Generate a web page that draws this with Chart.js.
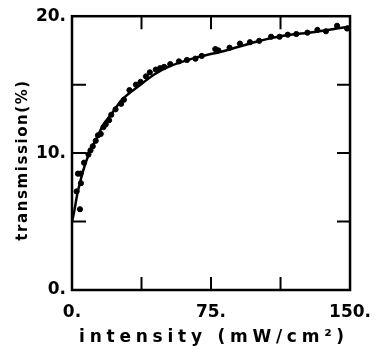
<!DOCTYPE html>
<html lang="en">
<head>
<meta charset="utf-8">
<title>transmission vs intensity</title>
<script src="https://cdnjs.cloudflare.com/ajax/libs/Chart.js/4.4.1/chart.umd.min.js"></script>
<style>
	html, body { margin: 0; padding: 0; background: #fff; }
	#wrap { width: 383px; height: 349px; position: relative; }
</style>
</head>
<body>
<div id="wrap"><canvas id="chart"></canvas></div>
<script>
// measured points (intensity mW/cm2, transmission %)
const pointX = [2.5, 3.2, 4.3, 4.6, 4.8, 6.5, 8.9, 10, 11.2, 12.8, 14, 15.5, 17, 18.2, 20, 21.2, 23.5, 26.5, 28, 31, 34.5, 37, 39.9, 42, 45.2, 47.5, 49.7, 53, 57.7, 62, 66.6, 70, 77.3, 79, 85, 90.6, 96, 101, 107.4, 112, 116.4, 121, 127, 132.4, 137, 143, 148.4]
const pointY = [7.2, 8.5, 5.9, 8.5, 7.8, 9.3, 9.9, 10.2, 10.5, 10.9, 11.3, 11.4, 11.9, 12.1, 12.4, 12.8, 13.2, 13.6, 13.9, 14.6, 15.0, 15.2, 15.6, 15.9, 16.1, 16.2, 16.3, 16.5, 16.7, 16.8, 16.9, 17.1, 17.6, 17.5, 17.7, 18.0, 18.1, 18.2, 18.5, 18.5, 18.65, 18.7, 18.8, 19.0, 18.9, 19.3, 19.1]

// fitted curve
const curveX = [0, 1, 3, 6, 9, 13, 17, 21, 27, 36, 45, 52, 65, 83, 100, 113, 131, 150]
const curveY = [5.0, 5.6, 7.1, 8.7, 9.9, 11.0, 12.1, 12.8, 13.9, 14.9, 15.8, 16.3, 16.9, 17.5, 18.15, 18.55, 18.85, 19.25]

const xLabelled = [0, 75, 150]
const yLabelled = [0, 10, 20]
const xTitle = "intensity (mW/cm\u00B2)"
const yTitle = "transmission(%)"

const font = "'DejaVu Sans', sans-serif"

const framePlugin = {
	id: "frame",
	afterDatasetsDraw(chart) {
		const { ctx, chartArea: a, scales: { x, y } } = chart
		ctx.save()
		ctx.strokeStyle = "#000"
		ctx.lineWidth = 2.5
		ctx.strokeRect(a.left, a.top, a.right - a.left, a.bottom - a.top)

		// inward tick marks on all four sides
		ctx.lineWidth = 2
		ctx.beginPath()
		x.ticks.forEach(t => {
			if (t.value <= x.min || t.value >= x.max) return
			const px = x.getPixelForValue(t.value)
			ctx.moveTo(px, a.bottom); ctx.lineTo(px, a.bottom - 13)
			ctx.moveTo(px, a.top); ctx.lineTo(px, a.top + 13)
		})
		y.ticks.forEach(t => {
			if (t.value <= y.min || t.value >= y.max) return
			const py = y.getPixelForValue(t.value)
			ctx.moveTo(a.left, py); ctx.lineTo(a.left + 14, py)
			ctx.moveTo(a.right, py); ctx.lineTo(a.right - 13, py)
		})
		ctx.stroke()

		// axis titles, spaced out like the original lettering
		ctx.fillStyle = "#000"
		ctx.textBaseline = "middle"
		ctx.textAlign = "center"
		ctx.font = "bold 17px " + font
		ctx.letterSpacing = "0px"
		let w = ctx.measureText(xTitle).width
		ctx.letterSpacing = ((265 - w) / (xTitle.length - 1)) + "px"
		ctx.fillText(xTitle, 214, 338)

		ctx.font = "bold 15px " + font
		ctx.letterSpacing = "0px"
		w = ctx.measureText(yTitle).width
		ctx.letterSpacing = ((160 - w) / (yTitle.length - 1)) + "px"
		ctx.translate(23, 160)
		ctx.rotate(-Math.PI / 2)
		ctx.fillText(yTitle, 0, 0)
		ctx.restore()
	}
}

new Chart(document.getElementById("chart"), {
	type: "scatter",
	data: {
		datasets: [{
			type: "line",
			data: curveX.map((v, i) => ({ x: v, y: curveY[i] })),
			borderColor: "#000",
			borderWidth: 2.5,
			pointRadius: 0,
			cubicInterpolationMode: "monotone",
			fill: false
		}, {
			data: pointX.map((v, i) => ({ x: v, y: pointY[i] })),
			backgroundColor: "#000",
			borderColor: "#000",
			pointRadius: 2.6,
			showLine: false
		}]
	},
	options: {
		responsive: true,
		maintainAspectRatio: false,
		animation: false,
		layout: { padding: { top: 14, right: 30, left: 0, bottom: 0 } },
		plugins: {
			legend: { display: false },
			tooltip: { enabled: false }
		},
		scales: {
			x: {
				type: "linear",
				min: 0,
				max: 150,
				grid: { display: false, drawTicks: false },
				border: { display: false },
				ticks: {
					stepSize: 37.5,
					autoSkip: false,
					maxRotation: 0,
					padding: 12,
					color: "#000",
					font: { family: font, size: 17, weight: "bold" },
					callback: v => xLabelled.includes(v) ? v + "." : ""
				},
				afterFit: s => { s.height = 59 }
			},
			y: {
				min: 0,
				max: 20,
				grid: { display: false, drawTicks: false },
				border: { display: false },
				ticks: {
					stepSize: 5,
					autoSkip: false,
					padding: 6,
					color: "#000",
					font: { family: font, size: 17, weight: "bold" },
					callback: v => yLabelled.includes(v) ? v + "." : ""
				},
				afterFit: s => { s.width = 72 }
			}
		}
	},
	plugins: [framePlugin]
})
</script>
</body>
</html>
